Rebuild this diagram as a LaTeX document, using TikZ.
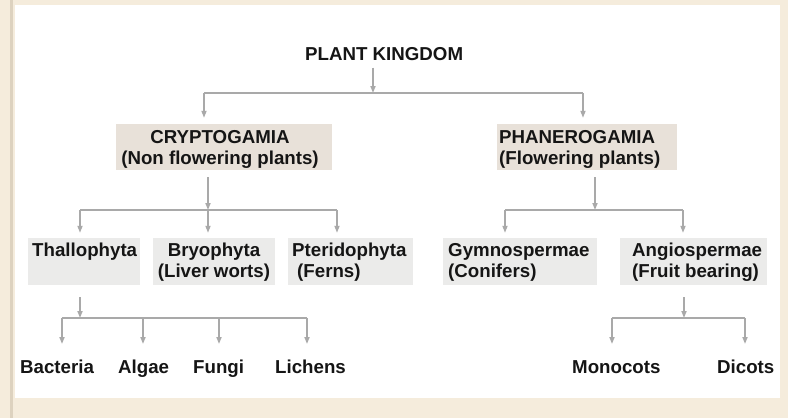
\documentclass[tikz,border=0pt]{standalone}
\usepackage{fontspec}
\setmainfont{Liberation Sans}
\usetikzlibrary{arrows.meta}
\definecolor{frame}{HTML}{F5ECDC}
\definecolor{frameline}{HTML}{DDD2BF}
\definecolor{boxA}{HTML}{E8E1D9}
\definecolor{boxB}{HTML}{EBEBEA}
\definecolor{conn}{HTML}{A9A9A9}
\definecolor{txt}{HTML}{151515}
\tikzset{
  lbl/.style={inner sep=0pt, anchor=north west, font=\bfseries\fontsize{18.7}{21}\selectfont, text=txt},
  lblc/.style={lbl, anchor=north, align=center},
  lbll/.style={lbl, align=left},
  topbox/.style={fill=boxA, inner sep=0pt, minimum height=46pt},
  midbox/.style={fill=boxB, inner sep=0pt, minimum height=47pt},
  link/.style={draw=conn, line width=1.6pt},
  arr/.style={draw=conn, line width=1.6pt, -{Triangle[length=7pt,width=5pt]}}
}
\begin{document}
\begin{tikzpicture}[x=1pt,y=-1pt]
\useasboundingbox (0,0) rectangle (788,418);
% frame
\fill[frame] (0,0) rectangle (788,418);
\fill[white] (15,5) rectangle (780,398);
\fill[frameline] (10,0) rectangle (13,418);

% level 0
\node[lbl] (pk) at (305,47) {PLANT KINGDOM};

% level 1 boxes
\node[topbox, minimum width=216pt] (crypto) at (224,147) {};
\node[topbox, minimum width=180pt] (phan) at (587,147) {};
\node[lblc] (cryptoT) at (220,130) {CRYPTOGAMIA\\(Non flowering plants)};
\node[lbll] (phanT) at (499,130) {PHANEROGAMIA\\(Flowering plants)};

% level 2 boxes
\node[midbox, minimum width=112pt] (thal) at (84,261.5) {};
\node[midbox, minimum width=122pt] (bryo) at (214,261.5) {};
\node[midbox, minimum width=125pt] (pter) at (350.5,261.5) {};
\node[midbox, minimum width=154pt] (gymn) at (520,261.5) {};
\node[midbox, minimum width=147pt] (angi) at (693.5,261.5) {};
\node[lbll] (thalT) at (32,243) {Thallophyta};
\node[lblc] (bryoT) at (214,243) {Bryophyta\\(Liver worts)};
\node[lbll] (pterT) at (292,243) {Pteridophyta\\\hspace*{5pt}(Ferns)};
\node[lbll] (gymnT) at (448,243) {Gymnospermae\\(Conifers)};
\node[lbll] (angiT) at (632,243) {Angiospermae\\(Fruit bearing)};

% leaves
\node[lbl] (bact) at (20,360) {Bacteria};
\node[lbl] (alga) at (118,360) {Algae};
\node[lbl] (fung) at (193,360) {Fungi};
\node[lbl] (lich) at (275,360) {Lichens};
\node[lbl] (mono) at (572,360) {Monocots};
\node[lbl] (dico) at (717,360) {Dicots};

% junction coordinates
\coordinate (j0) at (373,93);
\coordinate (j0l) at (204,93);
\coordinate (j0r) at (583,93);
\coordinate (j1) at (208,210);
\coordinate (j1a) at (80,210);
\coordinate (j1c) at (337,210);
\coordinate (j2) at (595,210);
\coordinate (j2a) at (505,210);
\coordinate (j2b) at (683,210);
\coordinate (j3) at (80,318);
\coordinate (j3a) at (62,318);
\coordinate (j3b) at (143,318);
\coordinate (j3c) at (219,318);
\coordinate (j3d) at (307,318);
\coordinate (j4) at (684,318);
\coordinate (j4a) at (612,318);
\coordinate (j4b) at (745,318);

% level 0 -> 1
\draw[arr, shorten <=7pt] (j0 |- pk.south) -- (j0);
\draw[link] (j0l) -- (j0r);
\draw[arr, shorten >=6pt] (j0l) -- (j0l |- crypto.north);
\draw[arr, shorten >=6pt] (j0r) -- (j0r |- phan.north);

% crypto -> level 2
\draw[arr, shorten <=7pt] (j1 |- crypto.south) -- (j1);
\draw[link] (j1a) -- (j1c);
\draw[arr, shorten >=5pt] (j1a) -- (j1a |- thal.north);
\draw[arr, shorten >=5pt] (j1) -- (j1 |- bryo.north);
\draw[arr, shorten >=5pt] (j1c) -- (j1c |- pter.north);

% phan -> level 2
\draw[arr, shorten <=7pt] (j2 |- phan.south) -- (j2);
\draw[link] (j2a) -- (j2b);
\draw[arr, shorten >=5pt] (j2a) -- (j2a |- gymn.north);
\draw[arr, shorten >=5pt] (j2b) -- (j2b |- angi.north);

% thallophyta -> leaves
\draw[arr, shorten <=12pt] (j3 |- thal.south) -- (j3);
\draw[link] (j3a) -- (j3d);
\draw[arr, shorten >=16pt] (j3a) -- (j3a |- bact.north);
\draw[arr, shorten >=16pt] (j3b) -- (j3b |- alga.north);
\draw[arr, shorten >=16pt] (j3c) -- (j3c |- fung.north);
\draw[arr, shorten >=16pt] (j3d) -- (j3d |- lich.north);

% angiospermae -> leaves
\draw[arr, shorten <=12pt] (j4 |- angi.south) -- (j4);
\draw[link] (j4a) -- (j4b);
\draw[arr, shorten >=16pt] (j4a) -- (j4a |- mono.north);
\draw[arr, shorten >=16pt] (j4b) -- (j4b |- dico.north);
\end{tikzpicture}
\end{document}
